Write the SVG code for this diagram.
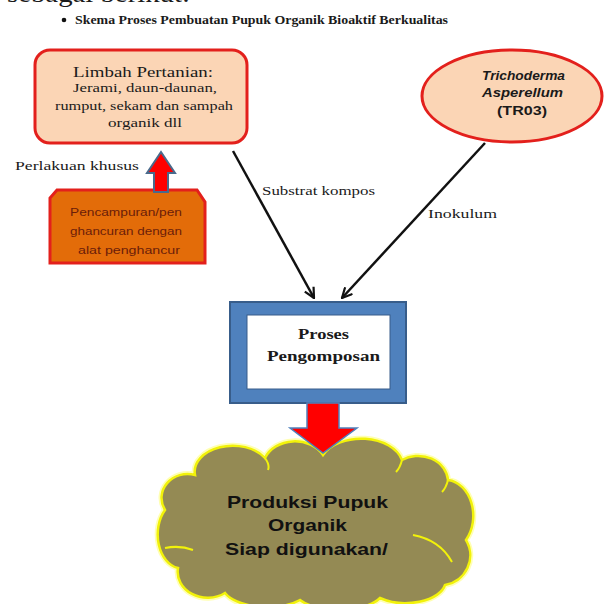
<svg xmlns="http://www.w3.org/2000/svg" width="615" height="604" viewBox="0 0 615 604">
<defs>
<style>
.serif{font-family:"Liberation Serif","Times New Roman",serif;fill:#1a1a1a}
.sans{font-family:"Liberation Sans",Arial,sans-serif}
.peach{fill:#fbd5b5;stroke:#e3201c;stroke-width:3}
.conn{stroke:#111;stroke-width:2.5;fill:none}
</style>
<marker id="ah" viewBox="0 0 12 12" refX="11" refY="6" markerWidth="12" markerHeight="12" markerUnits="userSpaceOnUse" orient="auto">
<path d="M1,1 L11,6 L1,11" fill="none" stroke="#111" stroke-width="2.2"/>
</marker>
</defs>
<rect width="615" height="604" fill="#ffffff"/>

<g id="header">
<text class="serif" x="7" y="1.5" font-size="26" textLength="183" lengthAdjust="spacingAndGlyphs">sebagai berikut:</text>
<circle cx="64" cy="20" r="2.3" fill="#111"/>
<text class="serif" x="75" y="24" font-size="13" font-weight="bold" textLength="373" lengthAdjust="spacingAndGlyphs">Skema Proses Pembuatan Pupuk Organik Bioaktif Berkualitas</text>
</g>

<g id="limbah">
<rect class="peach" x="35" y="50" width="212" height="93" rx="15"/>
<text class="serif" x="73" y="77" font-size="15" textLength="140" lengthAdjust="spacingAndGlyphs">Limbah Pertanian:</text>
<text class="serif" x="73" y="92" font-size="12.5" textLength="144" lengthAdjust="spacingAndGlyphs">Jerami, daun-daunan,</text>
<text class="serif" x="55" y="110" font-size="12.5" textLength="178" lengthAdjust="spacingAndGlyphs">rumput, sekam dan sampah</text>
<text class="serif" x="108" y="127" font-size="12.5" textLength="74" lengthAdjust="spacingAndGlyphs">organik dll</text>
</g>

<g id="trichoderma">
<ellipse class="peach" cx="512" cy="96" rx="90" ry="46"/>
<text class="sans" x="482" y="80" font-size="12" font-weight="bold" font-style="italic" fill="#1a1a1a" textLength="83" lengthAdjust="spacingAndGlyphs">Trichoderma</text>
<text class="sans" x="482" y="97" font-size="12" font-weight="bold" font-style="italic" fill="#1a1a1a" textLength="81" lengthAdjust="spacingAndGlyphs">Asperellum</text>
<text class="sans" x="497" y="115" font-size="12" font-weight="bold" fill="#1a1a1a" textLength="50" lengthAdjust="spacingAndGlyphs">(TR03)</text>
</g>

<g id="pencampuran">
<polygon points="57,190 197,190 205,202 205,263 50,263 50,198" fill="#e36c09" stroke="#e3201c" stroke-width="3"/>
<text class="sans" x="70" y="216" font-size="11" fill="#6b1d0a" textLength="112" lengthAdjust="spacingAndGlyphs">Pencampuran/pen</text>
<text class="sans" x="70" y="235" font-size="11" fill="#6b1d0a" textLength="112" lengthAdjust="spacingAndGlyphs">ghancuran dengan</text>
<text class="sans" x="78" y="254" font-size="11" fill="#6b1d0a" textLength="102" lengthAdjust="spacingAndGlyphs">alat penghancur</text>
</g>

<g id="proses">
<rect x="230" y="302" width="176" height="101" fill="#4f81bd" stroke="#385d8a" stroke-width="2"/>
<rect x="247" y="315" width="143" height="74" fill="#ffffff" stroke="#385d8a" stroke-width="1"/>
<text class="serif" x="298" y="339" font-size="14" font-weight="bold" textLength="51" lengthAdjust="spacingAndGlyphs">Proses</text>
<text class="serif" x="267" y="361" font-size="14" font-weight="bold" textLength="113" lengthAdjust="spacingAndGlyphs">Pengomposan</text>
</g>

<g id="produksi">
<path d="M323,455 A42,28 0 0 1 402,460 A30,26 0 0 1 448,480 A28,36 0 0 1 466,540 A30,30 0 0 1 445,585 A40,22 0 0 1 380,598 A45,20 0 0 1 300,600 A45,22 0 0 1 225,593 A30,26 0 0 1 178,568 A24,34 0 0 1 165,510 A26,24 0 0 1 195,475 A38,26 0 0 1 265,458 A32,26 0 0 1 323,455 Z" fill="#948a54" stroke="#ffff66" stroke-width="6" stroke-opacity="0.5"/>
<path d="M323,455 A42,28 0 0 1 402,460 A30,26 0 0 1 448,480 A28,36 0 0 1 466,540 A30,30 0 0 1 445,585 A40,22 0 0 1 380,598 A45,20 0 0 1 300,600 A45,22 0 0 1 225,593 A30,26 0 0 1 178,568 A24,34 0 0 1 165,510 A26,24 0 0 1 195,475 A38,26 0 0 1 265,458 A32,26 0 0 1 323,455 Z" fill="#948a54" stroke="#f2f20a" stroke-width="2.5"/>
<path d="M413,535 Q440,540 452,562 M165,548 Q180,545 193,550 M265,458 Q270,465 268,470 M402,460 Q400,468 396,472 M448,480 Q446,488 442,492" fill="none" stroke="#f2f20a" stroke-width="2"/>
<text class="sans" x="227" y="508" font-size="17" font-weight="bold" fill="#111" textLength="161" lengthAdjust="spacingAndGlyphs">Produksi Pupuk</text>
<text class="sans" x="268" y="531" font-size="17" font-weight="bold" fill="#111" textLength="79" lengthAdjust="spacingAndGlyphs">Organik</text>
<text class="sans" x="225" y="555" font-size="17" font-weight="bold" fill="#111" textLength="163" lengthAdjust="spacingAndGlyphs">Siap digunakan/</text>
</g>

<g id="connectors">
<line class="conn" x1="233" y1="151" x2="314" y2="298" marker-end="url(#ah)"/>
<line class="conn" x1="485" y1="143" x2="342" y2="298" marker-end="url(#ah)"/>
<polygon points="161,152 175,173 168,173 168,192 154,192 154,173 147,173" fill="#ff0000" stroke="#4a6a8c" stroke-width="2"/>
<polygon points="307,403 339,403 339,428 357,428 323,453 290,428 307,428" fill="#ff0000" stroke="#4f81bd" stroke-width="1.5"/>
<text class="serif" x="262" y="195" font-size="13" textLength="113" lengthAdjust="spacingAndGlyphs">Substrat kompos</text>
<text class="serif" x="428" y="218" font-size="13" textLength="69" lengthAdjust="spacingAndGlyphs">Inokulum</text>
<text class="serif" x="15" y="170" font-size="13" textLength="124" lengthAdjust="spacingAndGlyphs">Perlakuan khusus</text>
</g>
</svg>
